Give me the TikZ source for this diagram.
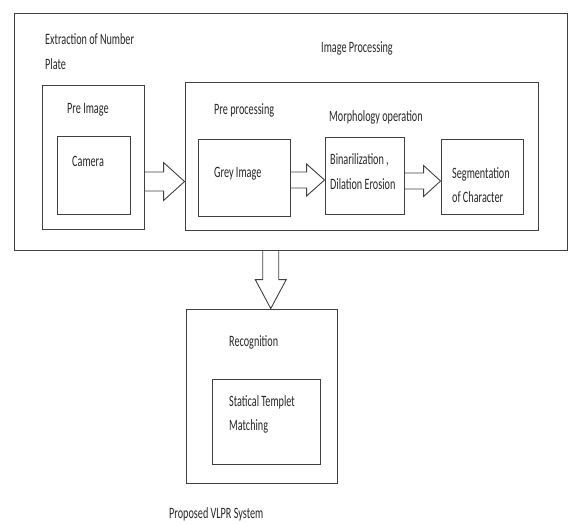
\documentclass[tikz,border=0pt]{standalone}
\usepackage{fontspec}
\setmainfont[FakeStretch=0.645]{Carlito}
\usetikzlibrary{calc}
\tikzset{
  box/.style={draw=black!75, line width=0.9pt, inner sep=0pt},
  lbl/.style={anchor=west, inner sep=0pt, text=black!85, font=\fontsize{15.8}{24.5}\selectfont, align=left},
  barrow/.style={draw=black!75, line width=0.9pt, line join=miter},
}
\newcommand\harrowconn[5]{%
  \draw[barrow] let \p1=(#1), \p2=(#2) in
    (\x1,{\y1+#3}) -- ({\x2-#5},{\y1+#3}) -- ({\x2-#5},{\y1+#4}) -- (\x2,\y1)
    -- ({\x2-#5},{\y1-#4}) -- ({\x2-#5},{\y1-#3}) -- (\x1,{\y1-#3});}
\newcommand\varrowconn[5]{%
  \draw[barrow] let \p1=(#1), \p2=(#2) in
    ({\x1-#3},\y1) -- ({\x1-#3},{\y2+#5}) -- ({\x1-#4},{\y2+#5}) -- (\x1,\y2)
    -- ({\x1+#4},{\y2+#5}) -- ({\x1+#3},{\y2+#5}) -- ({\x1+#3},\y1);}
\begin{document}
\begin{tikzpicture}[x=1pt,y=-1pt]
\useasboundingbox (0,0) rectangle (569,523);
% boxes
\node[box, minimum width=553.5, minimum height=237] (outer) at (290.75,131.5) {};
\node[box, minimum width=102, minimum height=144] (preimg) at (93,157) {};
\node[box, minimum width=73, minimum height=78] (camera) at (93.5,175) {};
\node[box, minimum width=353, minimum height=148] (improc) at (361.5,156) {};
\node[box, minimum width=92, minimum height=77] (grey) at (244,177.5) {};
\node[box, minimum width=79, minimum height=77] (binar) at (364.5,175.5) {};
\node[box, minimum width=82, minimum height=75] (seg) at (482,176.5) {};
\node[box, minimum width=151, minimum height=174] (recog) at (261.5,396) {};
\node[box, minimum width=108, minimum height=85] (stat) at (266,421.5) {};
% labels
\node[lbl] (t-extr) at (45,51.5) {Extraction of Number\\Plate};
\node[lbl] (t-improc) at (321,48) {Image Processing};
\node[lbl] (t-preimg) at (67,110) {Pre Image};
\node[lbl] (t-camera) at (72,161) {Camera};
\node[lbl] (t-prep) at (214,110) {Pre processing};
\node[lbl] (t-grey) at (214,174) {Grey Image};
\node[lbl] (t-morph) at (329,117) {Morphology operation};
\node[lbl] (t-binar) at (330,171.5) {Binarilization ,\\Dilation Erosion};
\node[lbl] (t-seg) at (452,185) {Segmentation\\of Character};
\node[lbl] (t-recog) at (229,342) {Recognition};
\node[lbl] (t-stat) at (229,414.5) {Statical Templet\\Matching};
\node[lbl] (t-prop) at (169,514) {Proposed VLPR System};
% arrows
\coordinate (a1s) at ($(preimg.east)+(0,24.5)$);
\coordinate (a1e) at ($(improc.west)+(0,25.5)$);
\harrowconn{a1s}{a1e}{9.5pt}{19pt}{21pt}
\coordinate (a2s) at ($(grey.east)+(0,2.5)$);
\coordinate (a2e) at ($(binar.west)+(0,4.5)$);
\harrowconn{a2s}{a2e}{8pt}{16pt}{18pt}
\coordinate (a3s) at ($(binar.east)+(0,5.5)$);
\coordinate (a3e) at ($(seg.west)+(0,4.5)$);
\harrowconn{a3s}{a3e}{8pt}{15.5pt}{17pt}
\coordinate (d1s) at ($(outer.south)+(-20,0)$);
\coordinate (d1e) at (d1s |- recog.north);
\varrowconn{d1s}{d1e}{8pt}{15.5pt}{29pt}
\end{tikzpicture}
\end{document}
